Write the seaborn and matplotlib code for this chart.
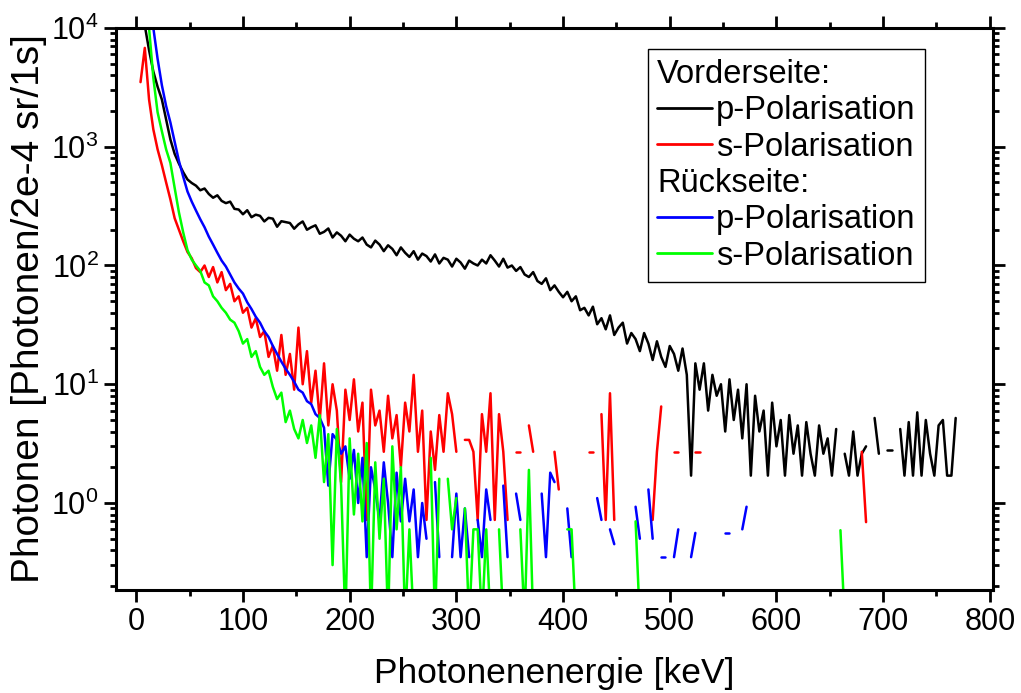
import numpy as np
import pandas as pd
import matplotlib
matplotlib.use("Agg")
import matplotlib.pyplot as plt
from matplotlib.lines import Line2D
from matplotlib.ticker import MultipleLocator, LogLocator
import seaborn as sns

nan = np.nan
STEP = 4  # keV per bin

# Vorderseite, p-Polarisation (bins from 8 keV)
black_start = 8
black = [
    10500, 6500, 4300, 3200, 2500, 1700, 1150, 870, 720, 610,
    530, 495, 470, 430, 445, 400, 372, 390, 350, 335,
    345, 300, 296, 270, 292, 255, 268, 262, 235, 252,
    248, 212, 236, 232, 228, 204, 222, 235, 200, 210,
    218, 185, 192, 205, 172, 190, 178, 160, 182, 168,
    160, 172, 150, 142, 162, 150, 132, 148, 138, 122,
    142, 128, 118, 132, 112, 126, 120, 108, 124, 104,
    116, 112, 98, 114, 106, 94, 110, 104, 100, 112,
    104, 122, 110, 98, 114, 96, 100, 90, 97, 84,
    80, 88, 74, 70, 78, 62, 68, 60, 54, 60,
    50, 55, 42, 44, 38, 45, 32, 36, 29, 38,
    26, 30, 33, 22, 27, 24, 19, 27, 22, 16,
    23, 17, 14, 21, 18, 13, 20, 12, 1.7, 15,
    9, 15, 6, 12, 8, 10, 4, 11, 5, 9,
    3.5, 10, 1.7, 8, 4, 6, 1.7, 7, 3, 5,
    1.7, 5.5, 2.6, 4.5, 1.7, 4.8, 2.6, 1.7, 4.5, 2.6,
    3.5, 1.7, 4.2, nan, 2.6, 1.7, 4, 1.7, 2.6, 3,
    nan, 5.2, 2.6, nan, 2.8, 2.8, nan, 4.2, 1.7, 4.8,
    1.7, 5.8, 1.7, 5, 2.6, 1.7, 4.5, 5, 1.7, 1.7,
    5.2,
]

# Vorderseite, s-Polarisation (bins from 4 keV)
red_start = 4
red = [
    3500, 6800, 2500, 1400, 950, 700, 500, 360, 250, 200,
    160, 130, 115, 95, 88, 100, 80, 97, 72, 88,
    62, 70, 50, 55, 40, 44, 30, 36, 25, 28,
    17, 21, 13, 26, 12, 18, 9, 30, 10, 19,
    7, 13, 5, 15, 4.5, 10, 6, 1.5, 9, 5,
    11, 4, 7, 0.72, 9, 4.5, 6, 2.7, 8, 3.5,
    5.5, 2, 7, 4, 12, 2.7, 6, 0.72, 4, 1.9,
    5.5, 2.7, 8.4, 5.6, 2.7, nan, 3.4, 3.4, 2.7, 0.72,
    5.6, 2.7, 8.4, 0.72, 5.6, 2.7, 0.72, nan, 2.7, 2.7,
    nan, 4.5, 2.7, nan, nan, nan, nan, 2.7, 1.3, nan,
    nan, nan, nan, nan, nan, 2.7, 2.7, nan, 5.6, 0.72,
    8.4, 0.72, nan, nan, nan, nan, nan, nan, nan, nan,
    0.72, 2.7, 6.5, nan, nan, 2.7, 2.7, nan, nan, nan,
    2.7, 2.7, nan, nan, nan, nan, nan, nan, nan, nan,
    nan, nan, nan, nan, nan, nan, nan, nan, nan, nan,
    nan, nan, nan, nan, nan, nan, nan, nan, nan, nan,
    nan, nan, nan, nan, nan, nan, nan, nan, nan, 2.7,
    0.69,
]

# Rückseite, p-Polarisation (bins from 12 keV)
blue_start = 12
blue = [
    20000, 10000, 5500, 3300, 2200, 1600, 1100, 760, 560, 420,
    345, 290, 245, 210, 175, 150, 128, 110, 98, 84,
    72, 64, 58, 49, 43, 37, 33, 28, 25, 21,
    18, 15.5, 13.5, 12, 10.5, 9, 8.5, 7.2, 6.8, 5.6,
    5.2, 4.3, 1.4, 3.8, 3.4, 2.6, 3.0, 1.6, 2.8, 1.0,
    2.4, 0.35, 2.0, 1.3, 0.7, 2.2, 1.0, 0.35, 1.8, 0.7,
    1.6, 0.7, 1.3, 0.35, 1.0, 0.5, nan, 1.5, 0.35, nan,
    nan, 0.35, 1.2, 0.35, 0.9, 0.35, nan, 0.72, 0.35, 1.3,
    0.72, nan, nan, 1.4, 0.35, nan, 1.2, 0.72, nan, nan,
    nan, nan, 1.2, 0.35, 1.8, 1.5, nan, nan, 0.9, 0.35,
    nan, nan, nan, nan, nan, 1.1, 0.72, nan, 0.6, 0.45,
    nan, nan, nan, nan, 0.93, 0.5, nan, 1.3, 0.5, nan,
    0.35, 0.35, nan, 0.35, 0.6, nan, nan, 0.35, 0.56, nan,
    nan, nan, nan, nan, nan, 0.56, 0.56, nan, nan, 0.6,
    0.93,
]

# Rückseite, s-Polarisation (bins from 12 keV)
green_start = 12
green = [
    10000, 3800, 1950, 1350, 950, 730, 450, 280, 190, 135,
    112, 100, 90, 72, 68, 55, 50, 44, 40, 35,
    33, 28, 22, 24, 17, 19, 14, 12, 13, 9.5,
    7.5, 8.5, 4.8, 6, 4.2, 3.5, 5, 3.2, 4.5, 2.4,
    5.5, 1.5, 3.8, 0.3, 4.2, 1.4, 0.1, 3.5, 0.8, 2.6,
    0.7, 3.2, 0.1, 2.2, 0.5, 1.6, 0.1, 3.0, 0.6, 2.0,
    0.1, 0.6, 0.1, nan, nan, nan, 2.4, 0.1, 1.6, nan,
    1.6, 0.6, 1.1, nan, 0.9, 0.1, 0.6, 0.6, 0.1, 0.6,
    0.1, nan, 0.6, 0.1, nan, nan, nan, 0.6, 0.1, 1.9,
    0.1, nan, nan, nan, nan, nan, nan, nan, 0.6, 0.6,
    0.1, nan, nan, nan, nan, nan, nan, nan, nan, nan,
    nan, nan, nan, nan, 0.7, 0.1, nan, nan, nan, nan,
    nan, nan, nan, nan, nan, nan, nan, nan, nan, nan,
    nan, nan, nan, nan, nan, nan, nan, nan, nan, nan,
    nan, nan, nan, nan, nan, nan, nan, nan, nan, nan,
    nan, nan, nan, nan, nan, nan, nan, nan, nan, nan,
    nan, nan, 0.59, 0.1,
]

series_names = ["Vorderseite p", "Vorderseite s", "Rückseite p", "Rückseite s"]
series_colors = ["#000000", "#FF0000", "#0000FF", "#00FF00"]
legend_labels = ["Vorderseite:", "p-Polarisation", "s-Polarisation",
                 "Rückseite:", "p-Polarisation", "s-Polarisation"]


def to_frame(name, start, values):
    y = np.array(values, dtype=float)
    x = start + STEP * np.arange(len(y))
    seg = np.cumsum(np.isnan(y))  # new segment after every gap
    df = pd.DataFrame({"energy": x, "photons": y, "series": name, "segment": seg})
    return df.dropna()


df = pd.concat([
    to_frame(series_names[0], black_start, black),
    to_frame(series_names[1], red_start, red),
    to_frame(series_names[2], blue_start, blue),
    to_frame(series_names[3], green_start, green),
], ignore_index=True)

sns.set_style("ticks")
plt.rcParams["font.family"] = ["Liberation Sans", "DejaVu Sans"]
plt.rcParams["mathtext.fontset"] = "custom"
plt.rcParams["mathtext.rm"] = "Liberation Sans"
plt.rcParams["mathtext.it"] = "Liberation Sans:italic"
plt.rcParams["text.color"] = "black"
plt.rcParams["axes.labelcolor"] = "black"
plt.rcParams["xtick.color"] = "black"
plt.rcParams["ytick.color"] = "black"

fig = plt.figure(figsize=(10.21, 6.93), dpi=100)
ax = fig.add_axes([0.1136, 0.1486, 0.859, 0.811])

sns.lineplot(data=df, x="energy", y="photons", hue="series", units="segment",
             estimator=None, sort=False, hue_order=series_names,
             palette=dict(zip(series_names, series_colors)),
             linewidth=1.8, legend=False, ax=ax)

ax.set_yscale("log")
ax.set_xlim(-19, 803)
ax.set_ylim(0.185, 1e4)
ax.xaxis.set_major_locator(MultipleLocator(100))
ax.xaxis.set_minor_locator(MultipleLocator(50))
ax.yaxis.set_major_locator(LogLocator(base=10, numticks=10))
ax.yaxis.set_minor_locator(LogLocator(base=10, subs=np.arange(2, 10), numticks=20))

for sp in ax.spines.values():
    sp.set_visible(True)
    sp.set_linewidth(2.2)
    sp.set_color("black")
ax.tick_params(which="both", direction="out", top=True, right=True,
               labeltop=False, labelright=False, width=2, color="black",
               labelcolor="black")
ax.tick_params(which="major", length=8.5, labelsize=22, pad=4)
ax.tick_params(which="minor", length=4.3)

ax.set_xlabel("Photonenenergie [keV]", fontsize=25.5, labelpad=14)
ax.set_ylabel("Photonen [Photonen/2e-4 sr/1s]", fontsize=28, labelpad=3)

handles = [Line2D([], [], color="none")]
handles += [Line2D([], [], color=c, lw=2) for c in series_colors[:2]]
handles += [Line2D([], [], color="none")]
handles += [Line2D([], [], color=c, lw=2) for c in series_colors[2:]]
leg = ax.legend(handles, legend_labels, loc="upper right",
                bbox_to_anchor=(0.9225, 0.9626), fontsize=23.5, frameon=True,
                fancybox=False, edgecolor="black", framealpha=1,
                handlelength=1.67, handletextpad=0.12, labelspacing=0.165,
                borderpad=0.3, borderaxespad=0)
leg.get_frame().set_linewidth(1.0)
# header rows: no handle space, text flush left
for column in leg._legend_handle_box.get_children():
    for row in column.get_children():
        handle_box, text_box = row.get_children()
        if text_box.get_text().endswith(":"):
            handle_box.set_width(0)
            row.sep = 0

fig.savefig("out.png", dpi=100)
